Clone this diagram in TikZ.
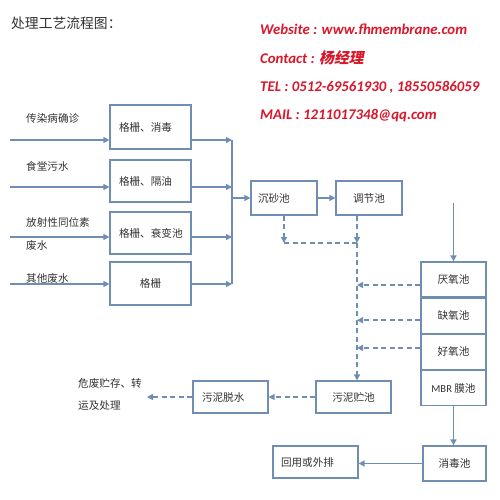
\documentclass[tikz,border=0pt]{standalone}
\usepackage{fontspec}
\setmainfont{Carlito}
\newfontfamily\cjk{Noto Sans CJK SC}
\newfontfamily\cjkslant[FakeSlant=0.2]{Noto Sans CJK SC}
\usetikzlibrary{arrows.meta,positioning}
\definecolor{linecol}{RGB}{112,142,180}
\definecolor{txtcol}{RGB}{50,50,50}
\definecolor{webred}{RGB}{218,22,42}
\newcommand{\cnsize}{\fontsize{10.6}{12}\selectfont}
\tikzset{
  proc/.style={draw=linecol, line width=1.2pt, inner sep=0pt, text=txtcol, font=\cjk\cnsize},
  procl/.style={proc, align=left},
  flow/.style={draw=linecol, line width=1.5pt, ->},
  sludge/.style={draw=linecol, line width=1.5pt, dash pattern=on 5pt off 3.5pt},
  lbl/.style={anchor=west, inner sep=0pt, text=txtcol, font=\cjk\cnsize},
  info/.style={anchor=west, inner sep=0pt, text=webred, font=\fontsize{14.8}{18}\selectfont\bfseries\itshape},
}
\begin{document}
\begin{tikzpicture}[x=1pt, y=-1pt, >={Triangle[length=6pt,width=6pt]}]
  \fill[white] (0,0) rectangle (500,500);
  \useasboundingbox (0,0) rectangle (500,500);

  % 1. 标题与联系方式
  \node[lbl, font=\cjk\fontsize{13.8}{15}\selectfont] (title) at (11,23) {处理工艺流程图：};
  \node[info] (web) at (260,29) {Website : www.fhmembrane.com};
  \node[info] (contact) at (260,58) {Contact : {\cjkslant\upshape 杨经理}};
  \node[info] (tel) at (260,87) {TEL : 0512-69561930 , 18550586059};
  \node[info] (mail) at (260,116) {MAIL : 1211017348@qq.com};

  % 2. 预处理
  \node[procl, text width=63pt, inner xsep=9pt, minimum height=44pt] (b1) at (150.5,127) {格栅、消毒};
  \node[procl, text width=63pt, inner xsep=9pt, minimum height=42pt] (b2) at (150.5,181) {格栅、隔油};
  \node[procl, text width=63pt, inner xsep=9pt, minimum height=42pt] (b3) at (150.5,233) {格栅、衰变池};
  \node[proc, minimum width=81pt, minimum height=43pt] (b4) at (150.5,283.5) {格栅};

  \node[lbl] (src1) at (26,118) {传染病确诊};
  \node[lbl] (src2) at (26,166) {食堂污水};
  \node[lbl, align=left, font=\cjk\fontsize{10.6}{23}\selectfont] (src3) at (26,233.5) {放射性同位素\\废水};
  \node[lbl] (src4) at (26,278) {其他废水};

  \foreach \n/\y in {1/140,2/187,3/237,4/284} {
    \coordinate (in\n) at (10,\y);
    \coordinate (bus\n) at (232,\y);
    \draw[flow] (in\n) -- (in\n -| b\n.west);
    \draw[flow] (b\n.east |- in\n) -- (bus\n);
  }
  \draw[linecol, line width=1.5pt] (bus1) -- (bus4);

  % 3. 沉砂、调节
  \node[procl, text width=52pt, inner xsep=7pt, minimum height=34pt] (sand) at (284,198) {沉砂池};
  \node[proc, minimum width=66pt, minimum height=34pt] (adj) at (369,198) {调节池};
  \coordinate (busmid) at (232,198);
  \draw[flow] (busmid) -- (sand.west);
  \draw[flow] (sand) -- (adj);

  % 4. 生化及MBR
  \node[proc, minimum width=65pt, minimum height=35pt] (ana) at (453.5,279.5) {厌氧池};
  \node[proc, minimum width=65pt, minimum height=35pt, below=0pt of ana] (ano) {缺氧池};
  \node[proc, minimum width=65pt, minimum height=35pt, below=0pt of ano] (aer) {好氧池};
  \node[proc, minimum width=65pt, minimum height=35pt, below=0pt of aer] (mbr) {{\rmfamily MBR} 膜池};
  \coordinate (feed) at (453.5,203);
  \draw[flow] (feed) -- (ana.north);

  % 5. 出水
  \node[proc, minimum width=63pt, minimum height=35pt] (dis) at (454.5,463.5) {消毒池};
  \node[procl, text width=69pt, inner xsep=8pt, minimum height=32pt] (reuse) at (315.5,462) {回用或外排};
  \draw[flow] (mbr.south) -- (mbr.south |- dis.north);
  \draw[flow] (dis.west) -- (dis.west -| reuse.east);

  % 6. 污泥处理
  \node[proc, minimum width=75pt, minimum height=32pt] (store) at (353.5,397) {污泥贮池};
  \node[procl, text width=57pt, inner xsep=9pt, minimum height=32pt] (dew) at (230.5,397) {污泥脱水};
  \node[lbl, align=left, inner sep=5pt, font=\cjk\fontsize{10.6}{22}\selectfont] (haz) at (73,394) {危废贮存、转\\运及处理};

  \coordinate (j1) at (284,243);
  \coordinate (j2) at (357,243);
  \draw[sludge, ->] (sand.south) -- (j1);
  \draw[sludge] (j1) -- (j2);
  \draw[sludge, ->] (adj.south -| j2) -- (j2);
  \draw[sludge, ->] (j2) -- (store.north -| j2);
  \draw[sludge, ->] ([yshift=-5.5pt]ana.west) -- ([yshift=-5.5pt]ana.west -| j2);
  \draw[sludge, ->] ([yshift=-4.5pt]ano.west) -- ([yshift=-4.5pt]ano.west -| j2);
  \draw[sludge, ->] ([yshift=4pt]aer.west) -- ([yshift=4pt]aer.west -| j2);
  \draw[sludge, ->] (store.west) -- (dew.east);
  \draw[sludge, ->] (dew.west) -- (dew.west -| haz.east);
\end{tikzpicture}
\end{document}
